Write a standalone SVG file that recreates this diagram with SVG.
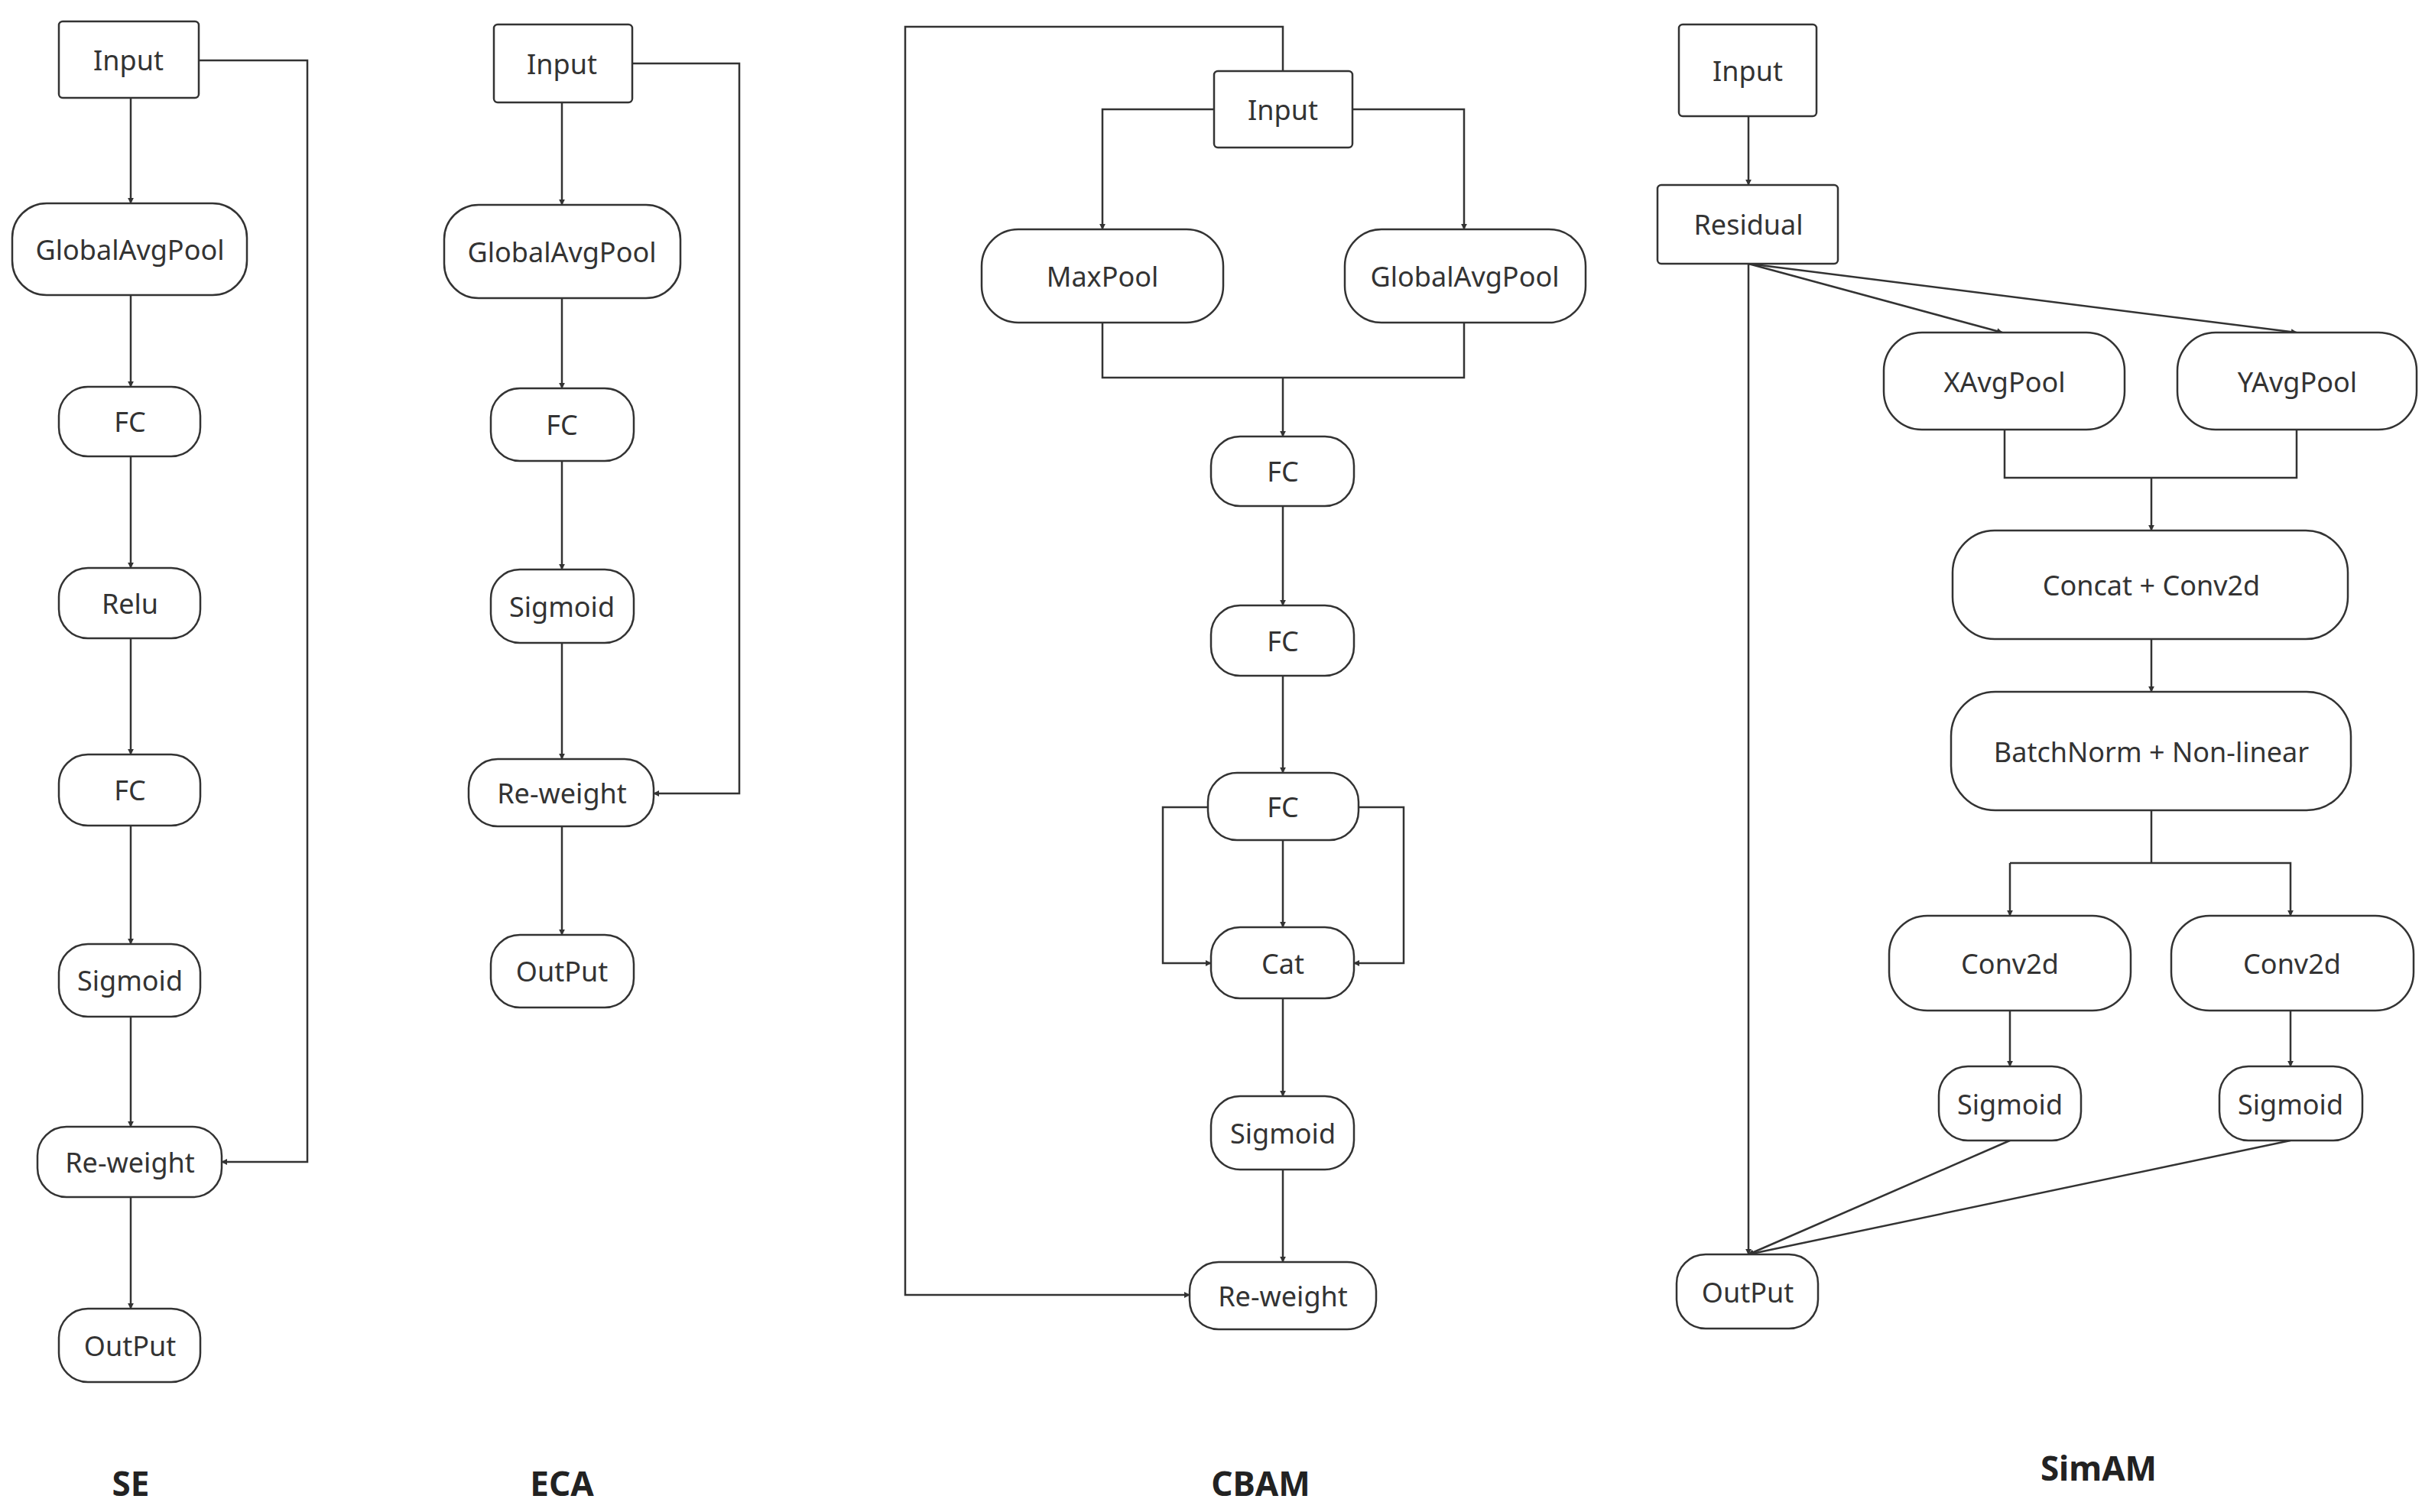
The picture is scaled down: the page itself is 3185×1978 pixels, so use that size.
<svg xmlns="http://www.w3.org/2000/svg" width="3185" height="1978" viewBox="0 0 3185 1978">
<defs>
<marker id="ah" viewBox="0 0 10 10" refX="9" refY="5" markerWidth="8" markerHeight="8" markerUnits="userSpaceOnUse" orient="auto">
<path d="M0,0 L10,5 L0,10 z" fill="#333"/>
</marker>
<style>
.n rect{fill:#fff;stroke:#333;stroke-width:2.5}
.n text,.t{font-family:"Noto Sans","Open Sans",sans-serif;font-size:36px;fill:#333;text-anchor:middle;dominant-baseline:central}
.t{font-weight:bold;font-size:44px;fill:#222}
#conn path{fill:none;stroke:#333;stroke-width:2.5}
#conn .a{marker-end:url(#ah)}
</style>
</defs>
<rect width="3185" height="1978" fill="#fff"/>
<g id="conn">
<!-- SE -->
<path class="a" d="M171,128 V266"/>
<path class="a" d="M171,386 V506"/>
<path class="a" d="M171,597 V743"/>
<path class="a" d="M171,835 V987"/>
<path class="a" d="M171,1080 V1235"/>
<path class="a" d="M171,1330 V1474"/>
<path class="a" d="M171,1566 V1712"/>
<path class="a" d="M260,79 H402 V1520 H290"/>
<!-- ECA -->
<path class="a" d="M735,134 V268"/>
<path class="a" d="M735,390 V508"/>
<path class="a" d="M735,603 V745"/>
<path class="a" d="M735,841 V993"/>
<path class="a" d="M735,1081 V1223"/>
<path class="a" d="M827,83 H967 V1038 H855"/>
<!-- CBAM -->
<path class="a" d="M1588,143 H1442 V300"/>
<path class="a" d="M1769,143 H1915 V300"/>
<path class="a" d="M1678,93 V35 H1184 V1694 H1556"/>
<path d="M1442,422 V494 H1915 V422"/>
<path class="a" d="M1678,494 V571"/>
<path class="a" d="M1678,662 V792"/>
<path class="a" d="M1678,884 V1011"/>
<path class="a" d="M1678,1099 V1213"/>
<path class="a" d="M1580,1056 H1521 V1260 H1584"/>
<path class="a" d="M1777,1056 H1836 V1260 H1771"/>
<path class="a" d="M1678,1306 V1434"/>
<path class="a" d="M1678,1530 V1651"/>
<!-- SimAM -->
<path class="a" d="M2287,152 V242"/>
<path class="a" d="M2287,345 V1641"/>
<path class="a" d="M2287,345 L2619,435"/>
<path class="a" d="M2287,345 L3004,435"/>
<path d="M2622,562 V625 H3004 V562"/>
<path class="a" d="M2814,625 V694"/>
<path class="a" d="M2814,836 V905"/>
<path d="M2814,1060 V1129"/>
<path class="a" d="M2629,1129 V1198"/>
<path class="a" d="M2629,1129 H2996 V1198"/>
<path class="a" d="M2629,1322 V1395"/>
<path class="a" d="M2996,1322 V1395"/>
<path class="a" d="M2629,1492 L2287,1641"/>
<path class="a" d="M2996,1492 L2287,1641"/>
</g>
<!-- SE nodes -->
<g id="se_input" class="n"><rect x="77" y="28" width="183" height="100" rx="5"/><text x="168" y="78">Input</text></g>
<g id="se_gap" class="n"><rect x="16" y="266" width="307" height="120" rx="45"/><text x="170" y="326">GlobalAvgPool</text></g>
<g id="se_fc1" class="n"><rect x="77" y="506" width="185" height="91" rx="38"/><text x="170" y="551">FC</text></g>
<g id="se_relu" class="n"><rect x="77" y="743" width="185" height="92" rx="38"/><text x="170" y="789">Relu</text></g>
<g id="se_fc2" class="n"><rect x="77" y="987" width="185" height="93" rx="38"/><text x="170" y="1033">FC</text></g>
<g id="se_sig" class="n"><rect x="77" y="1235" width="185" height="95" rx="38"/><text x="170" y="1282">Sigmoid</text></g>
<g id="se_rw" class="n"><rect x="49" y="1474" width="241" height="92" rx="38"/><text x="170" y="1520">Re-weight</text></g>
<g id="se_out" class="n"><rect x="77" y="1712" width="185" height="96" rx="38"/><text x="170" y="1760">OutPut</text></g>
<text class="t" x="171" y="1940">SE</text>
<!-- ECA nodes -->
<g id="eca_input" class="n"><rect x="646" y="32" width="181" height="102" rx="5"/><text x="735" y="83">Input</text></g>
<g id="eca_gap" class="n"><rect x="581" y="268" width="309" height="122" rx="45"/><text x="735" y="329">GlobalAvgPool</text></g>
<g id="eca_fc" class="n"><rect x="642" y="508" width="187" height="95" rx="38"/><text x="735" y="555">FC</text></g>
<g id="eca_sig" class="n"><rect x="642" y="745" width="187" height="96" rx="38"/><text x="735" y="793">Sigmoid</text></g>
<g id="eca_rw" class="n"><rect x="613" y="993" width="242" height="88" rx="38"/><text x="735" y="1037">Re-weight</text></g>
<g id="eca_out" class="n"><rect x="642" y="1223" width="187" height="95" rx="38"/><text x="735" y="1270">OutPut</text></g>
<text class="t" x="735" y="1940">ECA</text>
<!-- CBAM nodes -->
<g id="cbam_input" class="n"><rect x="1588" y="93" width="181" height="100" rx="5"/><text x="1678" y="143">Input</text></g>
<g id="cbam_max" class="n"><rect x="1284" y="300" width="316" height="122" rx="48"/><text x="1442" y="361">MaxPool</text></g>
<g id="cbam_gap" class="n"><rect x="1759" y="300" width="315" height="122" rx="48"/><text x="1916" y="361">GlobalAvgPool</text></g>
<g id="cbam_fc1" class="n"><rect x="1584" y="571" width="187" height="91" rx="38"/><text x="1678" y="616">FC</text></g>
<g id="cbam_fc2" class="n"><rect x="1584" y="792" width="187" height="92" rx="38"/><text x="1678" y="838">FC</text></g>
<g id="cbam_fc3" class="n"><rect x="1580" y="1011" width="197" height="88" rx="38"/><text x="1678" y="1055">FC</text></g>
<g id="cbam_cat" class="n"><rect x="1584" y="1213" width="187" height="93" rx="38"/><text x="1678" y="1260">Cat</text></g>
<g id="cbam_sig" class="n"><rect x="1584" y="1434" width="187" height="96" rx="38"/><text x="1678" y="1482">Sigmoid</text></g>
<g id="cbam_rw" class="n"><rect x="1556" y="1651" width="244" height="88" rx="38"/><text x="1678" y="1695">Re-weight</text></g>
<text class="t" x="1649" y="1940">CBAM</text>
<!-- SimAM nodes -->
<g id="sim_input" class="n"><rect x="2196" y="32" width="180" height="120" rx="5"/><text x="2286" y="92">Input</text></g>
<g id="sim_res" class="n"><rect x="2168" y="242" width="236" height="103" rx="5"/><text x="2287" y="293">Residual</text></g>
<g id="sim_x" class="n"><rect x="2464" y="435" width="315" height="127" rx="50"/><text x="2622" y="499">XAvgPool</text></g>
<g id="sim_y" class="n"><rect x="2848" y="435" width="313" height="127" rx="50"/><text x="3005" y="499">YAvgPool</text></g>
<g id="sim_concat" class="n"><rect x="2554" y="694" width="517" height="142" rx="55"/><text x="2814" y="765">Concat + Conv2d</text></g>
<g id="sim_bn" class="n"><rect x="2552" y="905" width="523" height="155" rx="58"/><text x="2814" y="983">BatchNorm + Non-linear</text></g>
<g id="sim_conv1" class="n"><rect x="2471" y="1198" width="316" height="124" rx="50"/><text x="2629" y="1260">Conv2d</text></g>
<g id="sim_conv2" class="n"><rect x="2840" y="1198" width="317" height="124" rx="50"/><text x="2998" y="1260">Conv2d</text></g>
<g id="sim_sig1" class="n"><rect x="2536" y="1395" width="186" height="97" rx="38"/><text x="2629" y="1444">Sigmoid</text></g>
<g id="sim_sig2" class="n"><rect x="2903" y="1395" width="187" height="97" rx="38"/><text x="2996" y="1444">Sigmoid</text></g>
<g id="sim_out" class="n"><rect x="2193" y="1641" width="185" height="97" rx="38"/><text x="2286" y="1690">OutPut</text></g>
<text class="t" x="2745" y="1920">SimAM</text>
</svg>
